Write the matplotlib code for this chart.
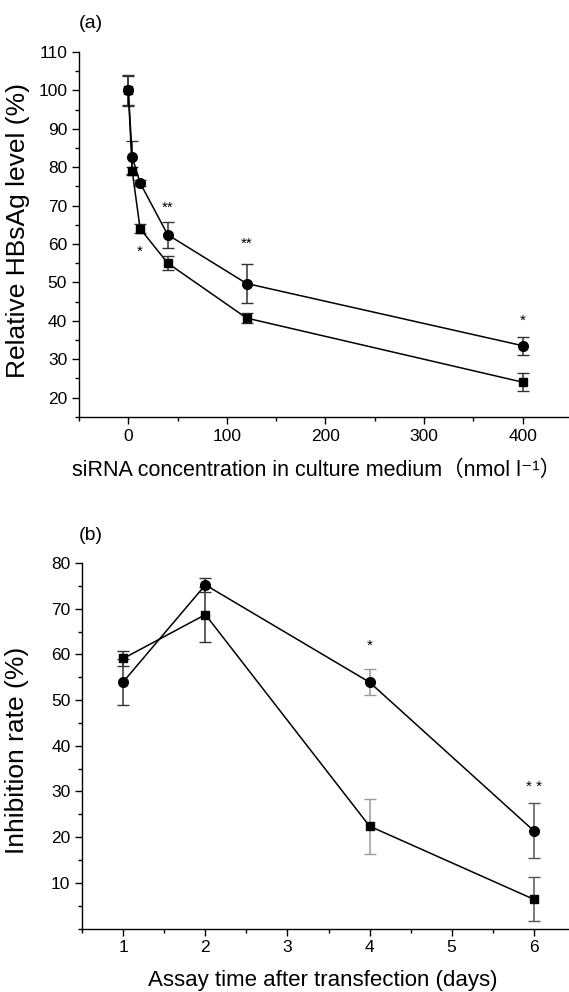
"""Two-panel HBsAg knockdown figure: dose response (a) and time course (b)."""

import matplotlib

matplotlib.use("Agg")
import matplotlib.pyplot as plt
from matplotlib.ticker import MultipleLocator

# panel (a): dose response
conc = [0, 4, 12, 40, 120, 400]
circle_a = [100.0, 82.6, 75.9, 62.4, 49.7, 33.5]
circle_a_err = [3.8, 4.3, 0.8, 3.4, 5.2, 2.3]
square_a = [100.0, 79.0, 64.0, 55.0, 40.7, 24.0]
square_a_err = [4.0, 1.0, 1.2, 1.8, 1.3, 2.3]
stars_a = [("*", 12, 58.0), ("**", 40, 69.5), ("**", 120, 60.0), ("*", 400, 40.0)]

# panel (b): time course
days = [1, 2, 4, 6]
circle_b = [54.0, 75.2, 53.9, 21.4]
circle_b_err = [5.0, 1.5, 2.8, 6.0]
square_b = [59.1, 68.7, 22.4, 6.4]
square_b_err = [1.7, 6.0, 6.0, 4.8]
err_colors_b = ["#333333", "#333333", "#9a9a9a", "#555555"]
stars_b = [("*", 4, 61.8), ("* *", 6, 31.0)]

FONT = ["Liberation Sans", "DejaVu Sans", "Noto Sans CJK SC"]
plt.rcParams.update({"font.family": FONT, "font.size": 12, "axes.linewidth": 1.0})


def _style_axes(ax):
    for side in ("top", "right"):
        ax.spines[side].set_visible(False)
    ax.tick_params(which="major", direction="out", length=5, width=1.0, labelsize=12.5)
    ax.tick_params(which="minor", direction="out", length=3, width=1.0)


def _draw_series(ax, x, y, yerr, marker, ms, ecolors):
    for xi, yi, ei, ec in zip(x, y, yerr, ecolors):
        ax.errorbar(xi, yi, yerr=ei, fmt="none", ecolor=ec, elinewidth=1.1,
                    capsize=4, capthick=1.0, zorder=2)
    ax.plot(x, y, color="black", linewidth=1.1, marker=marker, markersize=ms,
            markerfacecolor="black", markeredgecolor="black", zorder=3)


fig = plt.figure(figsize=(5.69, 9.92), dpi=100)

# ---- panel (a)
ax1 = fig.add_axes([0.1388, 0.5799, 0.8612, 0.3677])
_draw_series(ax1, conc, square_a, square_a_err, "s", 6.0, ["#333333"] * len(conc))
_draw_series(ax1, conc, circle_a, circle_a_err, "o", 7.0, ["#333333"] * len(conc))
for txt, xs, ys in stars_a:
    ax1.text(xs, ys, txt, ha="center", va="center", fontsize=11)
ax1.set_xlim(-50, 447)
ax1.set_ylim(15, 110)
ax1.xaxis.set_major_locator(MultipleLocator(100))
ax1.xaxis.set_minor_locator(MultipleLocator(50))
ax1.yaxis.set_major_locator(MultipleLocator(10))
ax1.yaxis.set_minor_locator(MultipleLocator(5))
ax1.set_yticks(range(20, 111, 10))
_style_axes(ax1)
ax1.set_xlabel("siRNA concentration in culture medium（nmol l⁻¹）", fontsize=15.5)
ax1.xaxis.label.set_va("center")
ax1.xaxis.set_label_coords(0.485, -0.146)
ax1.set_ylabel("Relative HBsAg level (%)", fontsize=19)
ax1.yaxis.label.set_va("center")
ax1.yaxis.set_label_coords(-0.1245, 0.511)
fig.text(91 / 569, 1 - 23 / 992, "(a)", ha="center", va="center", fontsize=14)

# ---- panel (b)
ax2 = fig.add_axes([0.1446, 0.0640, 0.8554, 0.3685])
_draw_series(ax2, days, square_b, square_b_err, "s", 6.0, err_colors_b)
_draw_series(ax2, days, circle_b, circle_b_err, "o", 7.0, err_colors_b)
for txt, xs, ys in stars_b:
    ax2.text(xs, ys, txt, ha="center", va="center", fontsize=11)
ax2.set_xlim(0.5, 6.43)
ax2.set_ylim(0, 80)
ax2.xaxis.set_major_locator(MultipleLocator(1))
ax2.xaxis.set_minor_locator(MultipleLocator(0.5))
ax2.yaxis.set_minor_locator(MultipleLocator(5))
ax2.set_yticks(range(10, 81, 10))
_style_axes(ax2)
ax2.set_xlabel("Assay time after transfection (days)", fontsize=16)
ax2.xaxis.label.set_va("center")
ax2.xaxis.set_label_coords(0.495, -0.141)
ax2.set_ylabel("Inhibition rate (%)", fontsize=19)
ax2.yaxis.label.set_va("center")
ax2.yaxis.set_label_coords(-0.134, 0.488)
fig.text(91 / 569, 1 - 535 / 992, "(b)", ha="center", va="center", fontsize=14)

fig.savefig("out.png", dpi=100)
